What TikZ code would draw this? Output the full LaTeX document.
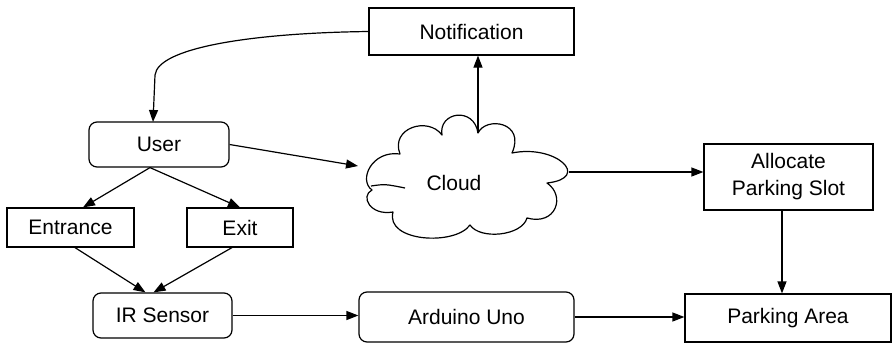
\documentclass[tikz,border=0pt]{standalone}
\usepackage{fontspec}
\setmainfont{Liberation Sans}
\usetikzlibrary{arrows.meta,calc}
\begin{document}
\begin{tikzpicture}[x=1pt,y=-1pt,
  every node/.style={font=\fontsize{21}{27}\selectfont},
  box/.style={draw, line width=1.2pt, inner sep=0pt, align=center},
  rbox/.style={box, rounded corners=8pt},
  conn/.style={line width=1.2pt, -{Triangle[length=12pt,width=9pt]}},
  outline/.style={line width=1.2pt, line join=round}]
\useasboundingbox (0,0) rectangle (892,343);
% nodes
\node[box, minimum width=205pt, minimum height=47pt] (notif) at (471.5,31.5) {Notification};
\node[rbox, minimum width=140pt, minimum height=45pt] (user) at (159,144.5) {User};
\node[box, minimum width=127pt, minimum height=39pt] (entr) at (70.5,227.5) {Entrance};
\node[box, minimum width=106pt, minimum height=39pt] (exit) at (240,227.5) {Exit};
\node[rbox, minimum width=139pt, minimum height=45pt] (ir) at (162.5,315.5) {IR Sensor};
\node[rbox, minimum width=215pt, minimum height=50pt] (ard) at (466.5,317) {Arduino Uno};
\node[box, minimum width=169pt, minimum height=66pt] (alloc) at (788.5,177) {Allocate\\Parking Slot};
\node[box, minimum width=206pt, minimum height=48pt] (park) at (788,318) {Parking Area};
% cloud
\node[inner sep=0pt, minimum width=201pt, minimum height=115pt] (cloud) at (470,176) {};
\node (cloudtxt) at (454,183) {Cloud};
\draw[outline]
  (372,190) .. controls (358,180) and (372,150) .. (400,154)
  .. controls (390,128) and (428,116) .. (442,135)
  .. controls (438,112) and (474,106) .. (478,133)
  .. controls (486,116) and (526,122) .. (512,153)
  .. controls (556,144) and (592,178) .. (547,183)
  .. controls (566,196) and (556,226) .. (527,218)
  .. controls (522,236) and (480,240) .. (470,225)
  .. controls (455,246) and (385,242) .. (393,212)
  .. controls (370,216) and (360,196) .. (372,190) -- cycle;
\draw[outline] (371,186) .. controls (385,184) .. (405,188);
\coordinate (cloudtop) at (478,133);
\coordinate (cloudright) at (569,172);
\coordinate (cloudin) at (358,166);
% connectors
\draw[conn] (notif.west) .. controls (250,33) and (158,48) .. (155,75) -- (153,122);
\draw[conn] (user.east) -- (cloudin);
\draw[conn] ([xshift=-9pt]user.south) -- ([xshift=12.5pt]entr.north);
\draw[conn] ([xshift=-9pt]user.south) -- (exit.north);
\draw[conn] ([xshift=4.5pt]entr.south) -- ([xshift=-17pt]ir.north);
\draw[conn] ([xshift=-8pt]exit.south) -- ([xshift=-9pt]ir.north);
\draw[conn] (cloudtop) -- (cloudtop |- notif.south);
\draw[conn] (cloudright) -- (cloudright -| alloc.west);
\draw[conn] ([xshift=-6.5pt]alloc.south) -- ([xshift=-6pt]park.north);
\draw[conn] (ir.east) -- (ir.east -| ard.west);
\draw[conn] (ard.east) -- (ard.east -| park.west);
\end{tikzpicture}
\end{document}
